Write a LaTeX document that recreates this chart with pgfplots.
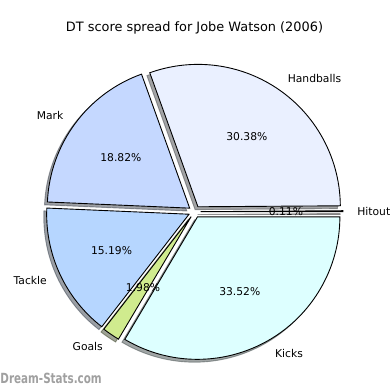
\documentclass[border=0pt]{standalone}
\usepackage{pgfplots}
\pgfplotsset{compat=1.18}
\usepackage{pgfplotstable}
\usepackage{fontspec}
\setmainfont{DejaVu Sans}

\definecolor{c0}{RGB}{225,225,225}
\definecolor{c1}{RGB}{234,240,255}
\definecolor{c2}{RGB}{197,216,255}
\definecolor{c3}{RGB}{182,214,255}
\definecolor{c4}{RGB}{208,235,142}
\definecolor{c5}{RGB}{221,255,255}
\definecolor{wm}{RGB}{160,160,160}

\pgfplotstableread{
name value
Hitout 0.11
Handballs 30.38
Mark 18.82
Tackle 15.19
Goals 1.98
Kicks 33.52
}\piedata

\def\pcx{194.5}\def\pcy{178.3}\def\pR{142.4}\def\pRpt{142.4pt}\def\pd{6}\def\psh{2.85}
\newcommand\lblfont{\fontsize{10.75}{12}\selectfont}
\newcommand\ttlfont{\fontsize{12.9}{15}\selectfont}

\begin{document}
\begin{tikzpicture}
\gdef\pcum{0}
\pgfplotsforeachungrouped \i in {0,...,5}{%
  \pgfplotstablegetelem{\i}{value}\of\piedata \let\pv\pgfplotsretval
  \pgfplotstablegetelem{\i}{name}\of\piedata \let\pn\pgfplotsretval
  \pgfmathsetmacro\pS{\pcum*3.6}%
  \pgfmathsetmacro\pE{(\pcum+\pv)*3.6}%
  \pgfmathsetmacro\pM{(\pS+\pE)/2}%
  \pgfmathsetmacro\pwx{\pcx+\pd*cos(\pM)}%
  \pgfmathsetmacro\pwy{\pcy+\pd*sin(\pM)}%
  \pgfmathsetmacro\psx{\pwx-\psh}%
  \pgfmathsetmacro\psy{\pwy-\psh}%
  \pgfmathsetmacro\plx{\pwx+1.1*\pR*cos(\pM)}%
  \pgfmathsetmacro\ply{\pwy+1.1*\pR*sin(\pM)}%
  \pgfmathsetmacro\ppx{\pwx+0.6*\pR*cos(\pM)}%
  \pgfmathsetmacro\ppy{\pwy+0.6*\pR*sin(\pM)}%
  \pgfmathtruncatemacro\pright{cos(\pM)>0}%
  \ifnum\pright=1 \expandafter\xdef\csname pla\i\endcsname{west}\else\expandafter\xdef\csname pla\i\endcsname{east}\fi
  \expandafter\xdef\csname pws\i\endcsname{\pS}%
  \expandafter\xdef\csname pwe\i\endcsname{\pE}%
  \expandafter\xdef\csname pwx\i\endcsname{\pwx}%
  \expandafter\xdef\csname pwy\i\endcsname{\pwy}%
  \expandafter\xdef\csname psx\i\endcsname{\psx}%
  \expandafter\xdef\csname psy\i\endcsname{\psy}%
  \expandafter\xdef\csname plx\i\endcsname{\plx}%
  \expandafter\xdef\csname ply\i\endcsname{\ply}%
  \expandafter\xdef\csname ppx\i\endcsname{\ppx}%
  \expandafter\xdef\csname ppy\i\endcsname{\ppy}%
  \expandafter\xdef\csname pln\i\endcsname{\pn}%
  \expandafter\xdef\csname plv\i\endcsname{\pv}%
  \pgfmathsetmacro\pnc{\pcum+\pv}\xdef\pcum{\pnc}%
}
\begin{axis}[name=ax, scale only axis, width=390pt, height=390pt,
  xmin=0, xmax=390, ymin=0, ymax=390, hide axis, clip=false]
% shadows
\pgfplotsinvokeforeach{0,...,5}{%
  \filldraw[fill=c#1!30!black, draw=c#1!30!black, line width=0.9pt, opacity=0.5]
    (axis cs:\csname psx#1\endcsname,\csname psy#1\endcsname)
    -- ++(\csname pws#1\endcsname:\pRpt)
    arc[start angle=\csname pws#1\endcsname, end angle=\csname pwe#1\endcsname, radius=\pRpt]
    -- cycle;
}
% wedges
\pgfplotsinvokeforeach{0,...,5}{%
  \filldraw[fill=c#1, draw=black, line width=0.9pt]
    (axis cs:\csname pwx#1\endcsname,\csname pwy#1\endcsname)
    -- ++(\csname pws#1\endcsname:\pRpt)
    arc[start angle=\csname pws#1\endcsname, end angle=\csname pwe#1\endcsname, radius=\pRpt]
    -- cycle;
}
% labels
\pgfplotsinvokeforeach{0,...,5}{%
  \node[anchor=\csname pla#1\endcsname, inner sep=0pt, font=\lblfont]
    at (axis cs:\csname plx#1\endcsname,\csname ply#1\endcsname) {\csname pln#1\endcsname};
  \node[inner sep=0pt, font=\lblfont]
    at (axis cs:\csname ppx#1\endcsname,\csname ppy#1\endcsname) {\csname plv#1\endcsname\%};
}
\node[anchor=base, inner sep=0pt, font=\ttlfont] at (axis cs:194.5,358.5) {DT score spread for Jobe Watson (2006)};
\node[anchor=base west, inner sep=0pt, text=wm, font=\bfseries\fontsize{14}{16}\selectfont, xscale=0.74] at (axis cs:0.3,6.7) {Dream-Stats.com};
\end{axis}
\pgfresetboundingbox
\path (ax.south west) rectangle (ax.north east);
\end{tikzpicture}
\end{document}
